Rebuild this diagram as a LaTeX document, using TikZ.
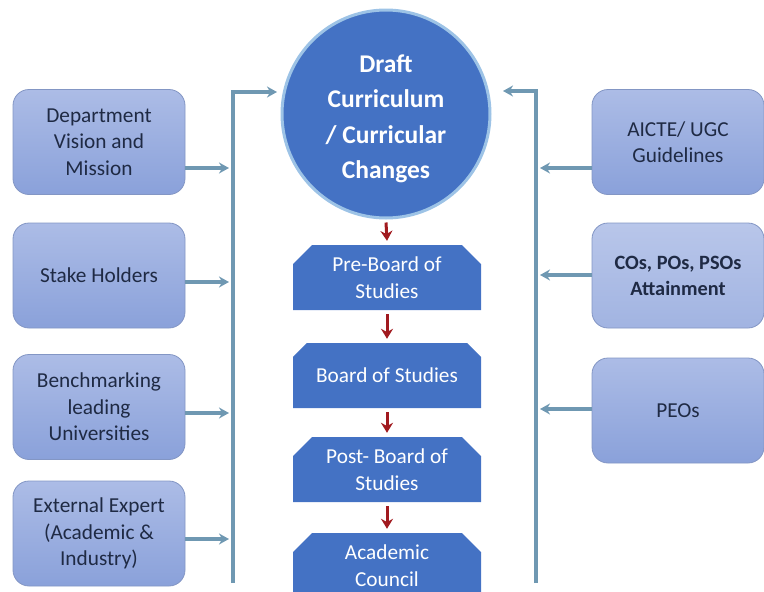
\documentclass[tikz,border=0pt]{standalone}
\usepackage{fontspec}
\setmainfont{Carlito}
\usetikzlibrary{shapes.misc,arrows.meta}
\definecolor{boxtop}{HTML}{ACBCE6}
\definecolor{boxbot}{HTML}{8AA1DA}
\definecolor{boxline}{HTML}{8396C4}
\definecolor{boxtext}{HTML}{1F2A44}
\definecolor{mainblue}{HTML}{4472C4}
\definecolor{ringblue}{HTML}{9DC3E6}
\definecolor{trunk}{HTML}{6F98B2}
\definecolor{darkred}{HTML}{A11A1F}
\begin{document}
\begin{tikzpicture}[x=1pt,y=-1pt,
  inbox/.style={draw=boxline, line width=0.8pt, rounded corners=16pt,
    top color=boxtop, bottom color=boxbot, minimum width=172pt,
    minimum height=105pt, align=center, text=boxtext,
    font=\fontsize{21.3}{26.5}\selectfont},
  stage/.style={chamfered rectangle, chamfered rectangle corners={north west,north east},
    chamfered rectangle xsep=16pt, fill=mainblue, draw=none,
    minimum width=188pt, minimum height=65pt, align=center, text=white,
    font=\fontsize{21.3}{26.5}\selectfont},
  arr/.style={draw=trunk, line width=3.4pt, -{Stealth[length=10pt,width=11pt]}},
  redarr/.style={draw=darkred, line width=3pt, -{Stealth[length=10pt,width=12pt]}}]
\useasboundingbox (0,0) rectangle (764,592);
\clip (0,0) rectangle (764,592);

% central circle
\node[circle, fill=mainblue, draw=ringblue, line width=3pt, minimum size=208pt,
  inner sep=0pt] (draft) at (386,114) {};
\node[align=center, text=white, font=\fontsize{25.5}{35.5}\selectfont\bfseries]
  (drafttext) at (386,119) {Draft\\Curriculum\\/ Curricular\\Changes};

% stages
\node[stage] (pre) at (387,277.5) {Pre-Board of\\Studies};
\node[stage] (bos) at (387,375.5) {Board of Studies};
\node[stage] (post) at (387,469.5) {Post- Board of\\Studies};
\node[stage] (ac) at (387,565.5) {Academic\\Council};

\draw[redarr] ([yshift=-3pt]draft.south) -- ([yshift=4pt]pre.north);
\draw[redarr] ([yshift=-4pt]pre.south) -- ([yshift=4pt]bos.north);
\draw[redarr] ([yshift=-4pt]bos.south) -- ([yshift=4pt]post.north);
\draw[redarr] ([yshift=-4pt]post.south) -- ([yshift=4pt]ac.north);

% left inputs
\node[inbox] (dept) at (99,142) {Department\\Vision and\\Mission};
\node[inbox] (stake) at (99,275.5) {Stake Holders};
\node[inbox] (bench) at (99,407) {Benchmarking\\leading\\Universities};
\node[inbox] (ext) at (99,533.5) {External Expert\\(Academic \&\\Industry)};

% right inputs
\node[inbox] (aicte) at (678,142) {AICTE/ UGC\\Guidelines};
\node[inbox, top color=boxtop!85!white, bottom color=boxbot!80!white,
  font=\fontsize{20.3}{26}\selectfont\bfseries] (cos) at (678,275.5)
  {COs, POs, PSOs\\Attainment};
\node[inbox] (peo) at (678,410.5) {PEOs};

% trunk lines
\coordinate (ltop) at (233,92);
\coordinate (lbot) at (233,583);
\coordinate (lend) at (277,92);
\coordinate (rtop) at (536,91);
\coordinate (rbot) at (536,583);
\coordinate (rend) at (503,91);
\draw[arr] (lbot) -- (ltop) -- (lend);
\draw[arr] (rbot) -- (rtop) -- (rend);

\coordinate (l1) at (229,168);
\coordinate (l2) at (229,282);
\coordinate (l3) at (229,413);
\coordinate (l4) at (229,539);
\draw[arr] (dept.east |- l1) -- (l1);
\draw[arr] (stake.east |- l2) -- (l2);
\draw[arr] (bench.east |- l3) -- (l3);
\draw[arr] (ext.east |- l4) -- (l4);

\coordinate (r1) at (540,168);
\coordinate (r2) at (540,275);
\coordinate (r3) at (540,409);
\draw[arr] (aicte.west |- r1) -- (r1);
\draw[arr] (cos.west |- r2) -- (r2);
\draw[arr] (peo.west |- r3) -- (r3);
\end{tikzpicture}
\end{document}
